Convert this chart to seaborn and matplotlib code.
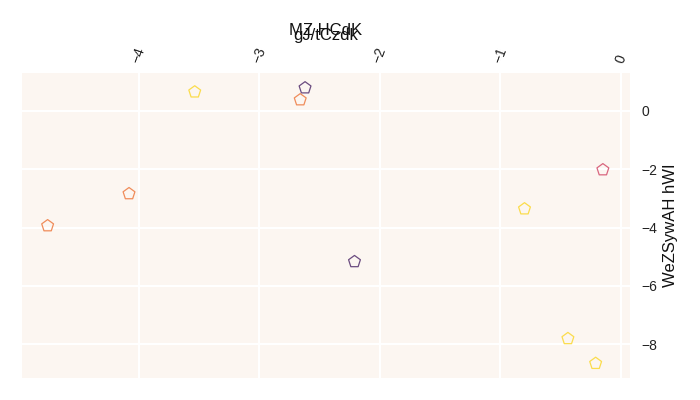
import matplotlib
matplotlib.use("Agg")
import matplotlib.pyplot as plt
import seaborn as sns
import pandas as pd

x_vals = [-3.535, -2.62, -2.66, -4.08, -4.755, -2.21, -0.15, -0.80, -0.44, -0.21]
y_vals = [0.65, 0.79, 0.38, -2.84, -3.94, -5.17, -2.02, -3.36, -7.81, -8.66]
groups = ["D", "A", "C", "C", "C", "A", "B", "D", "D", "D"]
group_order = ["A", "B", "C", "D"]
group_colors = ["#6b4c80", "#d9667f", "#f08c5a", "#fbdc4c"]

title = "MZ HCdK"
x_label = "gJ/tCzdk"
y_label = "WeZSywAH hWI"

df = pd.DataFrame({"x": x_vals, "y": y_vals, "g": groups})

sns.set_theme(style="darkgrid", rc={"axes.facecolor": "#fcf6f1", "grid.color": "white",
                                    "grid.linewidth": 1.5})
plt.rcParams["font.family"] = ["Liberation Sans", "DejaVu Sans"]

fig = plt.figure(figsize=(7, 4), dpi=100)
ax = fig.add_axes([0.031, 0.055, 0.869, 0.7625])

for g, c in zip(group_order, group_colors):
    sub = df[df["g"] == g]
    sns.scatterplot(data=sub, x="x", y="y", ax=ax, marker="p", s=80,
                    facecolors="none", edgecolor=c, linewidth=0.9, legend=False)

ax.set_xlim(-4.97, 0.075)
ax.set_ylim(-9.16, 1.3)
ax.set_xticks([-4, -3, -2, -1, 0])
ax.set_yticks([0, -2, -4, -6, -8])
ax.xaxis.tick_top()
ax.xaxis.set_label_position("top")
ax.yaxis.tick_right()
ax.yaxis.set_label_position("right")
ax.tick_params(axis="x", labelrotation=70, labelsize=10, pad=6, length=0, labelcolor="#222222")
ax.tick_params(axis="y", labelsize=10, pad=8, length=0, labelcolor="#222222")
ax.set_xlabel(x_label, fontsize=12, va="center", color="#111111")
ax.xaxis.set_label_coords(0.5, 1.124)
ax.set_ylabel(y_label, fontsize=12, va="center", color="#111111")
ax.yaxis.set_label_coords(1.066, 0.5)
ax.set_title(title, fontsize=12, pad=0, y=1.138, va="center", color="#111111")
for s in ax.spines.values():
    s.set_visible(False)

fig.savefig("out.png", dpi=100)
